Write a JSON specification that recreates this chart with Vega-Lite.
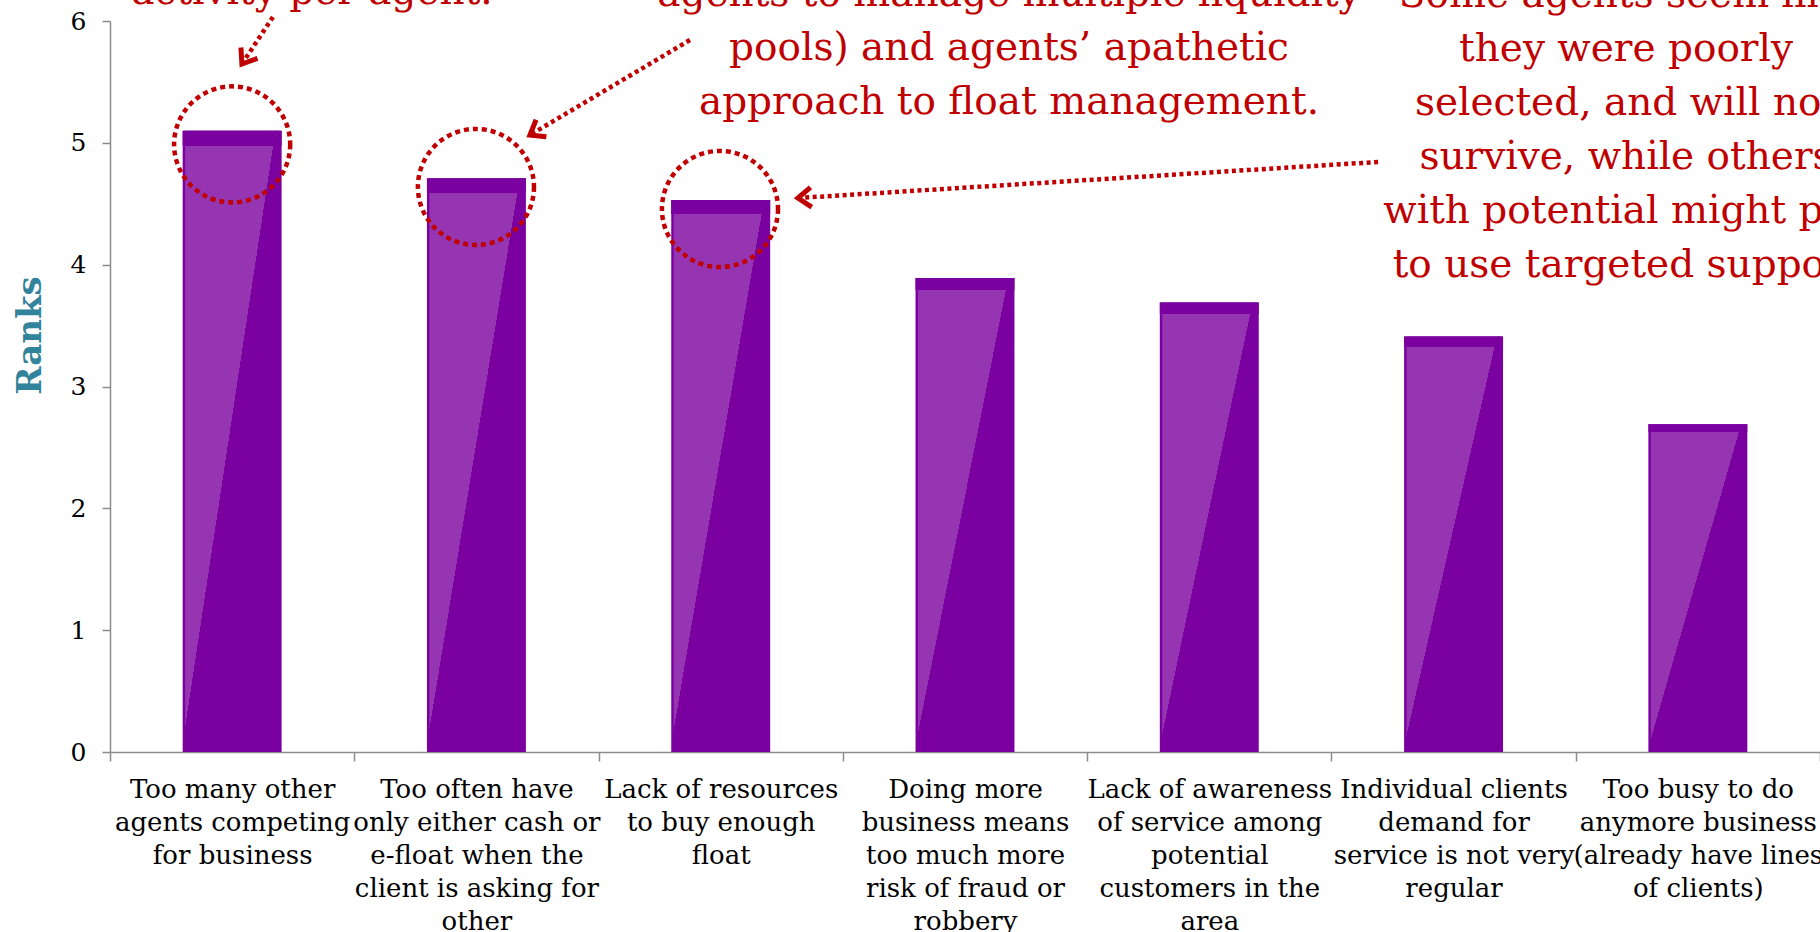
{
  "$schema": "https://vega.github.io/schema/vega-lite/v6.json",
  "width": 1710,
  "height": 731,
  "autosize": "none",
  "padding": {"left": 110, "top": 21, "right": 0, "bottom": 180},
  "background": "white",
  "config": {"view": {"stroke": null}},
  "datasets": {
    "ranks": [
      {"cause": "Too many other\nagents competing\nfor business", "rank": 5.10},
      {"cause": "Too often have\nonly either cash or\ne-float when the\nclient is asking for\nother", "rank": 4.71},
      {"cause": "Lack of resources\nto buy enough\nfloat", "rank": 4.53},
      {"cause": "Doing more\nbusiness means\ntoo much more\nrisk of fraud or\nrobbery", "rank": 3.89},
      {"cause": "Lack of awareness\nof service among\npotential\ncustomers in the\narea", "rank": 3.69},
      {"cause": "Individual clients\ndemand for\nservice is not very\nregular", "rank": 3.41},
      {"cause": "Too busy to do\nanymore business\n(already have lines\nof clients)", "rank": 2.69}
    ],
    "notes": [
      {"note": "A", "u": 0.827, "v": 6.140, "lines": ["activity per agent."]},
      {"note": "B", "u": 3.68, "v": 6.125, "lines": ["agents to manage multiple liquidity", "pools) and agents\u2019 apathetic", "approach to float management."]},
      {"note": "C", "u": 6.206, "v": 6.119, "lines": ["Some agents seem like", "they were poorly", "selected, and will not", "survive, while others", "with potential might pay", "to use targeted support"]}
    ],
    "rings": [
      {"u": 0.5, "v": 4.987},
      {"u": 1.498, "v": 4.638},
      {"u": 2.497, "v": 4.457}
    ],
    "arrows": [
      {"arrow": "A", "u1": 0.667, "v1": 6.033, "u2": 0.540, "v2": 5.647},
      {"arrow": "B", "u1": 2.374, "v1": 5.844, "u2": 1.719, "v2": 5.064},
      {"arrow": "C", "u1": 5.191, "v1": 4.843, "u2": 2.816, "v2": 4.547}
    ]
  },
  "layer": [
    {
      "data": {"name": "ranks"},
      "mark": {"type": "bar", "color": "#7A00A0", "width": {"band": 0.405}},
      "encoding": {
        "x": {
          "field": "cause", "type": "nominal", "sort": null,
          "scale": {"paddingInner": 0, "paddingOuter": 0},
          "axis": {
            "title": null,
            "tickBand": "extent",
            "labelExpr": "isValid(datum.value) ? split(datum.value, '\\n') : ''",
            "labelFont": "DejaVu Serif",
            "labelFontSize": 26,
            "labelLineHeight": 33,
            "labelColor": "#000000",
            "labelLimit": 0,
            "labelOverlap": false,
            "labelBound": false,
            "labelAngle": 0,
            "labelBaseline": "top",
            "labelPadding": 15,
            "tickSize": 9,
            "tickColor": "#8C8C8C",
            "tickWidth": 1.5,
            "domainColor": "#8C8C8C",
            "domainWidth": 1.5
          }
        },
        "y": {
          "field": "rank", "type": "quantitative",
          "scale": {"domain": [0, 6], "nice": false},
          "axis": {
            "title": "Ranks",
            "values": [0, 1, 2, 3, 4, 5, 6],
            "format": "d",
            "grid": false,
            "domainColor": "#8C8C8C",
            "domainWidth": 1.5,
            "tickColor": "#8C8C8C",
            "tickWidth": 1.5,
            "tickSize": 8,
            "labelFont": "DejaVu Serif",
            "labelFontSize": 25,
            "labelColor": "#000000",
            "labelPadding": 16,
            "titleFont": "DejaVu Serif",
            "titleFontSize": 34,
            "titleFontWeight": "bold",
            "titleColor": "#31849B",
            "titleAngle": -90,
            "titleX": -80,
            "titleY": 314,
            "titleAlign": "center",
            "titleBaseline": "middle"
          }
        }
      }
    },
    {
      "data": {"name": "ranks"},
      "mark": {
        "type": "bar",
        "width": {"band": 0.385},
        "fill": {
          "gradient": "linear", "x1": 0, "y1": 0, "x2": 1, "y2": 1,
          "stops": [
            {"offset": 0, "color": "#9535B2"},
            {"offset": 0.48, "color": "#9535B2"},
            {"offset": 0.48, "color": "#7A00A0"},
            {"offset": 1, "color": "#7A00A0"}
          ]
        }
      },
      "encoding": {
        "x": {"field": "cause", "type": "nominal", "sort": null, "scale": {"paddingInner": 0, "paddingOuter": 0}, "axis": null},
        "y": {"field": "rank", "type": "quantitative", "scale": {"domain": [0, 6], "nice": false}, "axis": null}
      }
    },
    {
      "data": {"name": "ranks"},
      "mark": {
        "type": "bar",
        "width": {"band": 0.405},
        "fill": {
          "gradient": "linear", "x1": 0, "y1": 0, "x2": 0, "y2": 1,
          "stops": [
            {"offset": 0, "color": "#7A00A0"},
            {"offset": 0.025, "color": "#7A00A0"},
            {"offset": 0.025, "color": "rgba(122,0,160,0)"},
            {"offset": 1, "color": "rgba(122,0,160,0)"}
          ]
        }
      },
      "encoding": {
        "x": {"field": "cause", "type": "nominal", "sort": null, "scale": {"paddingInner": 0, "paddingOuter": 0}, "axis": null},
        "y": {"field": "rank", "type": "quantitative", "scale": {"domain": [0, 6], "nice": false}, "axis": null}
      }
    },
    {
      "data": {"name": "rings"},
      "mark": {"type": "point", "shape": "circle", "size": 13478, "filled": false, "stroke": "#C00000", "strokeWidth": 4.5, "strokeDash": [5, 4], "opacity": 1},
      "encoding": {
        "x": {"field": "u", "type": "quantitative", "scale": {"domain": [0, 7], "nice": false, "zero": false}, "axis": null},
        "y": {"field": "v", "type": "quantitative", "scale": {"domain": [0, 6], "nice": false}, "axis": null}
      }
    },
    {
      "data": {"name": "arrows"},
      "mark": {"type": "rule", "color": "#C00000", "strokeWidth": 4.5, "strokeDash": [4, 3.5], "strokeCap": "butt"},
      "encoding": {
        "x": {"field": "u1", "type": "quantitative", "scale": {"domain": [0, 7], "nice": false, "zero": false}, "axis": null},
        "y": {"field": "v1", "type": "quantitative", "scale": {"domain": [0, 6], "nice": false}, "axis": null},
        "x2": {"field": "u2"},
        "y2": {"field": "v2"}
      }
    },
    {
      "data": {"name": "arrows"},
      "transform": [{"filter": "datum.arrow === 'A'"}],
      "mark": {"type": "point", "shape": "M -1 -0.75 L 0 0 L -1 0.75", "size": 700, "filled": false, "stroke": "#C00000", "strokeWidth": 5, "strokeJoin": "miter", "angle": 123.4, "opacity": 1},
      "encoding": {
        "x": {"field": "u2", "type": "quantitative", "scale": {"domain": [0, 7], "nice": false, "zero": false}, "axis": null},
        "y": {"field": "v2", "type": "quantitative", "scale": {"domain": [0, 6], "nice": false}, "axis": null}
      }
    },
    {
      "data": {"name": "arrows"},
      "transform": [{"filter": "datum.arrow === 'B'"}],
      "mark": {"type": "point", "shape": "M -1 -0.75 L 0 0 L -1 0.75", "size": 700, "filled": false, "stroke": "#C00000", "strokeWidth": 5, "strokeJoin": "miter", "angle": 148.8, "opacity": 1},
      "encoding": {
        "x": {"field": "u2", "type": "quantitative", "scale": {"domain": [0, 7], "nice": false, "zero": false}, "axis": null},
        "y": {"field": "v2", "type": "quantitative", "scale": {"domain": [0, 6], "nice": false}, "axis": null}
      }
    },
    {
      "data": {"name": "arrows"},
      "transform": [{"filter": "datum.arrow === 'C'"}],
      "mark": {"type": "point", "shape": "M -1 -0.75 L 0 0 L -1 0.75", "size": 700, "filled": false, "stroke": "#C00000", "strokeWidth": 5, "strokeJoin": "miter", "angle": 176.4, "opacity": 1},
      "encoding": {
        "x": {"field": "u2", "type": "quantitative", "scale": {"domain": [0, 7], "nice": false, "zero": false}, "axis": null},
        "y": {"field": "v2", "type": "quantitative", "scale": {"domain": [0, 6], "nice": false}, "axis": null}
      }
    },
    {
      "data": {"name": "notes"},
      "mark": {"type": "text", "font": "DejaVu Serif", "fontSize": 39, "color": "#C00000", "align": "center", "baseline": "alphabetic", "lineHeight": 54},
      "encoding": {
        "x": {"field": "u", "type": "quantitative", "scale": {"domain": [0, 7], "nice": false, "zero": false}, "axis": null},
        "y": {"field": "v", "type": "quantitative", "scale": {"domain": [0, 6], "nice": false}, "axis": null},
        "text": {"field": "lines", "type": "nominal"}
      }
    }
  ],
  "resolve": {"scale": {"x": "independent", "y": "independent"}}
}
